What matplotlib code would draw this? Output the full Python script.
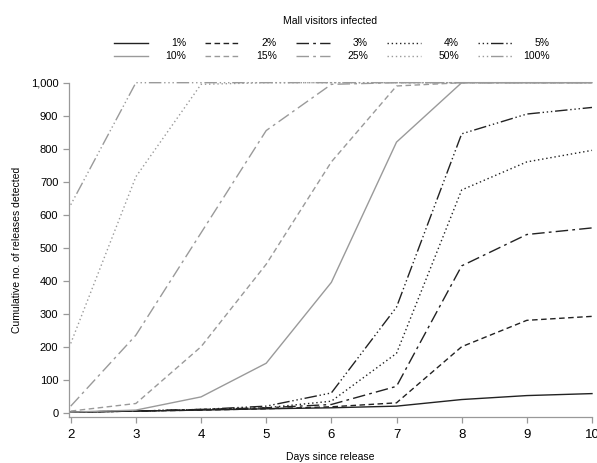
import matplotlib
matplotlib.use('Agg')
import matplotlib.pyplot as plt
from matplotlib.lines import Line2D
from matplotlib.ticker import FuncFormatter

plt.rcParams['font.family'] = ['Liberation Sans', 'DejaVu Sans']

# days since release
days = [2, 3, 4, 5, 6, 7, 8, 9, 10]

# cumulative releases detected
labels = ['1%', '2%', '3%', '4%', '5%', '10%', '15%', '25%', '50%', '100%']
p1 = [2, 5, 8, 12, 15, 20, 40, 52, 58]
p2 = [2, 5, 8, 12, 18, 30, 200, 280, 292]
p3 = [2, 5, 10, 15, 25, 80, 445, 540, 560]
p4 = [2, 5, 10, 15, 35, 180, 675, 760, 795]
p5 = [2, 5, 10, 20, 60, 320, 845, 905, 925]
p10 = [2, 8, 48, 150, 395, 820, 1000, 1000, 1000]
p15 = [5, 28, 200, 450, 760, 990, 1000, 1000, 1000]
p25 = [20, 235, 545, 855, 995, 1000, 1000, 1000, 1000]
p50 = [210, 715, 995, 1000, 1000, 1000, 1000, 1000, 1000]
p100 = [630, 1000, 1000, 1000, 1000, 1000, 1000, 1000, 1000]
series = [p1, p2, p3, p4, p5, p10, p15, p25, p50, p100]

# line styles (same five dash patterns, black then grey)
dashes = ['-', (0, (4, 2.5)), (0, (9, 3, 2, 3)), (0, (1, 2)), (0, (1, 2, 1, 2, 1, 2, 9, 2))]
styles = dashes + dashes
colors = ['#222222'] * 5 + ['#9a9a9a'] * 5

fig = plt.figure(figsize=(5.97, 4.63), dpi=100)
ax = fig.add_axes([0.1152, 0.100, 0.8764, 0.7214])

for vals, ls, c in zip(series, styles, colors):
    ax.plot(days, vals, color=c, linestyle=ls, linewidth=1.0, clip_on=False)

ax.set_xlim(1.97, 10.0)
ax.set_ylim(-12, 1000)
ax.set_xticks(days)
ax.set_yticks(range(0, 1001, 100))
ax.yaxis.set_major_formatter(FuncFormatter(lambda v, p: '{:,.0f}'.format(v)))

for s in ['top', 'right']:
    ax.spines[s].set_visible(False)
for s in ['left', 'bottom']:
    ax.spines[s].set_color('#999999')
    ax.spines[s].set_linewidth(0.9)
ax.tick_params(axis='both', colors='#999999', length=4, width=0.9, labelcolor='black')
ax.tick_params(axis='x', labelsize=9.5, pad=5)
ax.tick_params(axis='y', labelsize=8)

ax.set_xlabel('Days since release', fontsize=7.5, labelpad=8)
ax.set_ylabel('Cumulative no. of releases detected', fontsize=7.5, labelpad=6)

# legend drawn by hand so labels are right aligned like the original
W, H = 597.0, 463.0
fig.text(330 / W, 1 - 21 / H, 'Mall visitors infected', ha='center', va='center', fontsize=7.5)
for i in range(10):
    col = i % 5
    row = i // 5
    x0 = 114 + 91 * col
    y = 1 - (43 + 13 * row) / H
    fig.add_artist(Line2D([x0 / W, (x0 + 34) / W], [y, y], color=colors[i],
                          linestyle=styles[i], linewidth=1.0))
    fig.text((x0 + 72) / W, y, labels[i], ha='right', va='center', fontsize=7.5)

fig.savefig('out.png', dpi=100)
